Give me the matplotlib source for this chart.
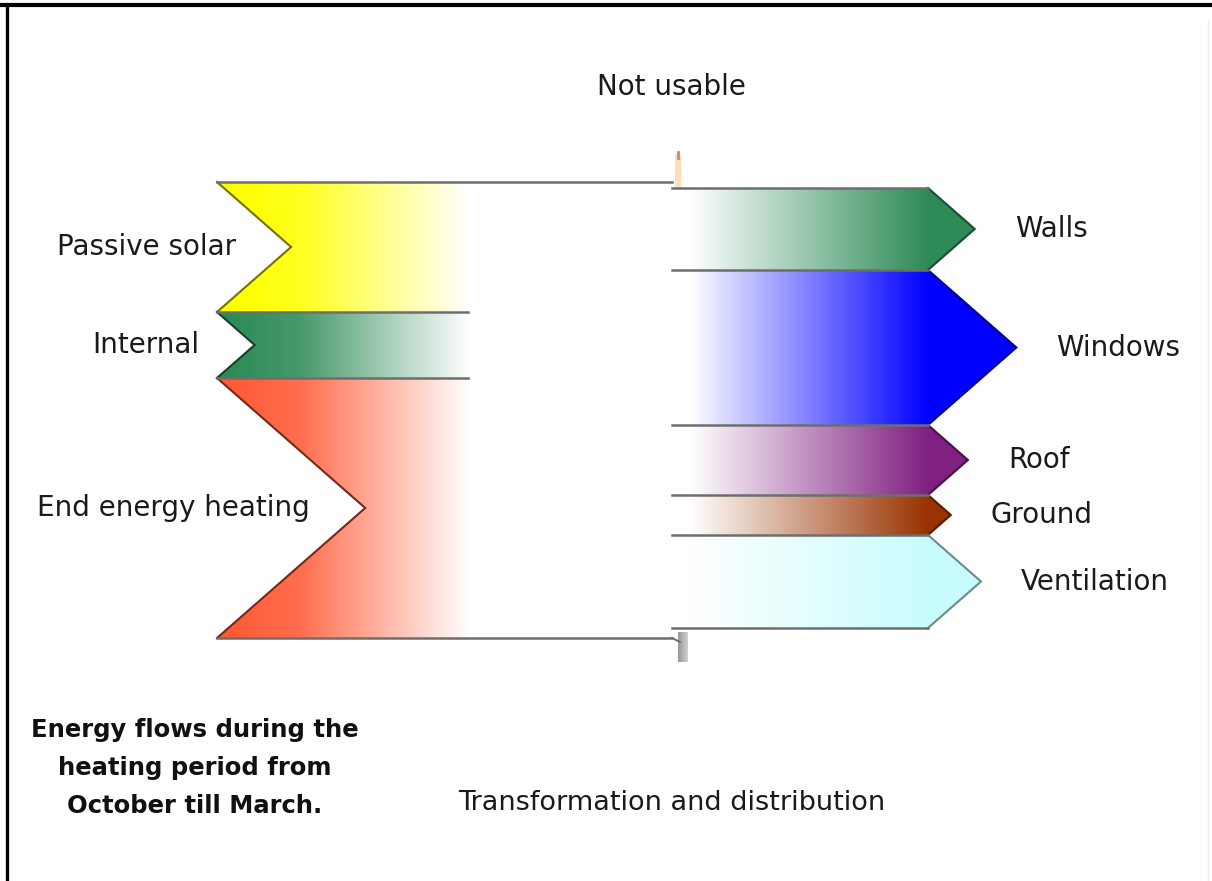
import numpy as np
import matplotlib.pyplot as plt
from matplotlib.patches import Polygon
from matplotlib.colors import to_rgb

# ----------------------------------------------------------------------
# data (flow widths, arbitrary units ~ pixels)
# ----------------------------------------------------------------------
in_labels = ["Passive solar", "Internal", "End energy heating"]
in_values = [130, 66, 260]
in_colors = ["#FFFF00", "#2E8B57", "#FF5A36"]

out_labels = ["Walls", "Windows", "Roof", "Ground", "Ventilation"]
out_values = [82, 155, 70, 40, 93]
out_colors = ["#2E8B57", "#0000FF", "#802080", "#993300", "#C8FCFC"]

not_usable = [6, 10]   # leaves at top / bottom

note_lines = ["Energy flows during the", "heating period from", "October till March."]

# ----------------------------------------------------------------------
# layout
# ----------------------------------------------------------------------
W, H = 1212, 881
top0 = 182
tail_x = 217
fade_end = 470
split_x = 672
head_x = 928
depth_k = 0.57
txt_col = "#1a1a1a"
line_col = "#6e6e6e"


def darker(c, f=0.5):
    return tuple(np.array(to_rgb(c)) * f)


def grad_fill(ax, verts, color, xs, ks):
    poly = Polygon(verts, closed=True, facecolor="none", edgecolor="none")
    ax.add_patch(poly)
    v = np.array(verts)
    xmin, xmax = v[:, 0].min(), v[:, 0].max()
    ymin, ymax = v[:, 1].min(), v[:, 1].max()
    xx = np.linspace(xmin, xmax, 500)
    k = np.interp(xx, xs, ks)
    c = np.array(to_rgb(color))
    img = (1 - k)[:, None] + k[:, None] * c[None, :]
    im = ax.imshow(img[None, :, :], extent=[xmin, xmax, ymax, ymin],
                   aspect="auto", interpolation="bilinear", zorder=1)
    im.set_clip_path(poly)


fig = plt.figure(figsize=(W / 100, H / 100), dpi=100)
ax = fig.add_axes([0, 0, 1, 1])
ax.axis("off")

# inputs (left)
y = top0
for lab, val, col in zip(in_labels, in_values, in_colors):
    top, bot = y, y + val
    mid = (top + bot) / 2
    nx = tail_x + depth_k * val
    verts = [(tail_x, top), (fade_end, top), (fade_end, bot), (tail_x, bot), (nx, mid)]
    grad_fill(ax, verts, col, [tail_x + 15, 300, fade_end], [1, 0.88, 0])
    ax.plot([tail_x, nx, tail_x], [top, mid, bot], color=darker(col, 0.45),
            lw=1.5, zorder=3, solid_joinstyle="miter")
    ax.text(nx - 55, mid, lab, ha="right", va="center", fontsize=20, color=txt_col)
    y = bot
left_bot = y

# horizontal boundary lines on the left
ax.plot([tail_x, split_x], [top0, top0], color=line_col, lw=1.8, zorder=3)
ax.plot([tail_x, split_x], [left_bot, left_bot], color=line_col, lw=1.8, zorder=3)
yb = top0
for val in in_values[:-1]:
    yb += val
    ax.plot([tail_x, fade_end - 2], [yb, yb], color=line_col, lw=1.8, zorder=3)

# outputs (right)
y = top0 + not_usable[0]
right_top = y
for lab, val, col in zip(out_labels, out_values, out_colors):
    top, bot = y, y + val
    mid = (top + bot) / 2
    tip = head_x + depth_k * val
    verts = [(split_x, top), (head_x, top), (tip, mid), (head_x, bot), (split_x, bot)]
    grad_fill(ax, verts, col, [split_x + 18, head_x], [0, 1])
    ax.plot([head_x, tip, head_x], [top, mid, bot], color=darker(col, 0.55),
            lw=1.5, zorder=3, solid_joinstyle="miter")
    ax.plot([split_x, head_x], [top, top], color=line_col, lw=1.8, zorder=3)
    ax.text(tip + 40, mid, lab, ha="left", va="center", fontsize=20, color=txt_col)
    y = bot
ax.plot([split_x, head_x], [y, y], color=line_col, lw=1.8, zorder=3)
right_bot = y

# small "not usable" leaks at the split
lx = split_x + 3
grad_fill(ax, [(lx, right_top), (lx, top0 - 28), (lx + not_usable[0], top0 - 28),
               (lx + not_usable[0], right_top)], "#FFC890", [lx, lx + 8], [0.6, 0.6])
ax.plot([lx + 3, lx + 3], [top0 - 30, top0 - 24], color="#999999", lw=2, zorder=3)
bx = split_x + 6
grad_fill(ax, [(bx, right_bot + 4), (bx, left_bot + 24), (bx + not_usable[1], left_bot + 24),
               (bx + not_usable[1], right_bot + 4)], "#8C8C8C",
          [bx, bx + not_usable[1]], [0.9, 0.4])
ax.plot([split_x, bx + 2], [left_bot, left_bot + 4], color=line_col, lw=1.4, zorder=3)

# texts
ax.text(671, 87, "Not usable", ha="center", va="center", fontsize=20, color=txt_col)
ax.text(672, 803, "Transformation and distribution", ha="center", va="center",
        fontsize=19.5, color=txt_col)
for i, s in enumerate(note_lines):
    ax.text(195, 730 + 38 * i, s, ha="center", va="center", fontsize=17.5,
            fontweight="bold", color="#111111")

# frame
ax.plot([0, W], [5, 5], color="black", lw=3, zorder=5)
ax.plot([7, 7], [5, H], color="black", lw=2.4, zorder=5)
ax.plot([1208, 1208], [20, H], color="#eeeeee", lw=1, zorder=5)

ax.set_xlim(0, W)
ax.set_ylim(H, 0)

fig.savefig("out.png", dpi=100)
